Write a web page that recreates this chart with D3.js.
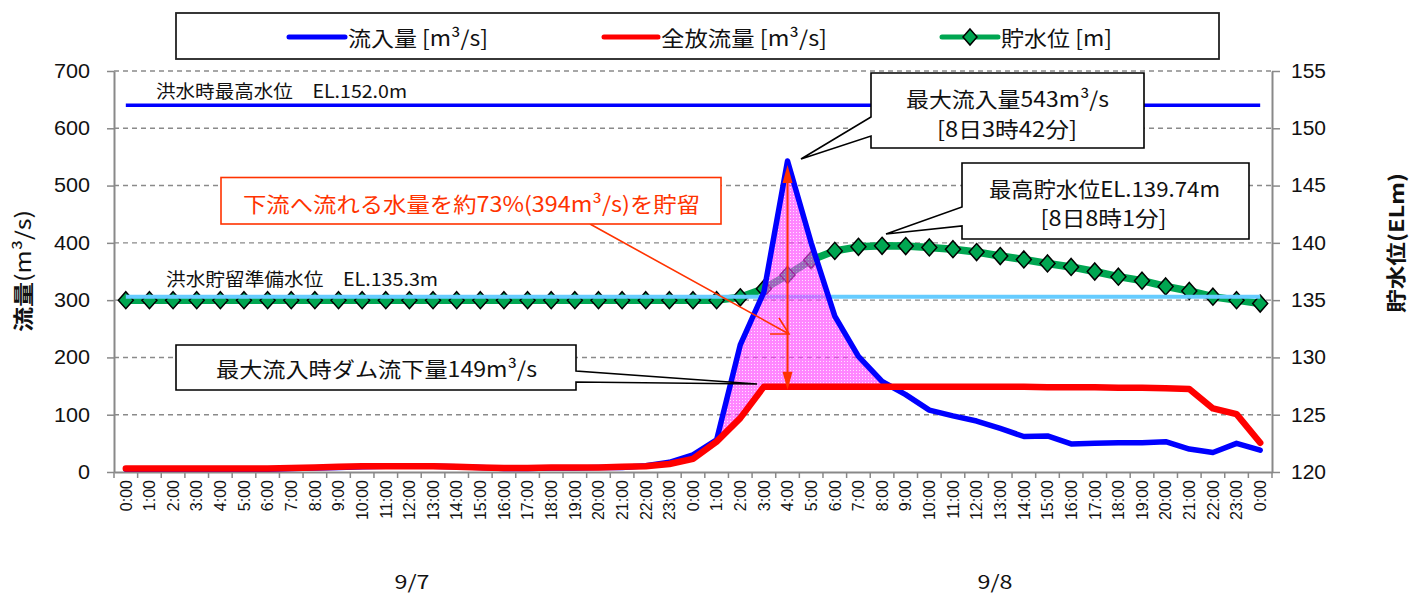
<!DOCTYPE html>
<html><head><meta charset="utf-8">
<script src="https://cdn.jsdelivr.net/npm/d3@7"></script>
<style>
html,body{margin:0;padding:0;background:#fff;}
svg{display:block;}
</style></head><body>
<svg id="chart" width="1410" height="593"></svg>
<script>
// ---------- data ----------
const hourLabels = ["0:00","1:00","2:00","3:00","4:00","5:00","6:00","7:00","8:00","9:00","10:00","11:00",
  "12:00","13:00","14:00","15:00","16:00","17:00","18:00","19:00","20:00","21:00","22:00","23:00",
  "0:00","1:00","2:00","3:00","4:00","5:00","6:00","7:00","8:00","9:00","10:00","11:00",
  "12:00","13:00","14:00","15:00","16:00","17:00","18:00","19:00","20:00","21:00","22:00","23:00","0:00"];
const dateLabels = ["9/7","9/8"];
const seriesNames = ["流入量 [m³/s]","全放流量 [m³/s]","貯水位 [m]"];
// inflow (m3/s)
const inflow = [5,5,5,5,5,5,5,6,7,8,9,10,10,10,9,8,6,6,7,7,8,8,11,17,
  30,56,222,314,543,400,272,202,158,135,108,98,89,76,62,63,49,50,51,51,53,40,34,50,38];
// total outflow (m3/s)
const outflow = [6,6,6,6,6,6,6,7,8,9,10,10,10,10,9,8,7,7,8,8,8,9,10,14,
  23,53,94,149,149,149,149,149,149,149,149,149,149,149,149,148,148,148,147,147,146,145,111,101,51];
// reservoir level (EL.m)
const storageLevel = [135.0,135.0,135.0,135.0,135.0,135.0,135.0,135.0,135.0,135.0,135.0,135.0,
  135.0,135.0,135.0,135.0,135.0,135.0,135.0,135.0,135.0,135.0,135.0,135.0,
  135.0,135.0,135.25,136.0,137.2,138.5,139.3,139.65,139.74,139.72,139.6,139.45,139.2,138.85,
  138.55,138.2,137.9,137.5,137.05,136.7,136.2,135.8,135.3,135.0,134.7];
const floodMaxLevel = 152.0;      // 洪水時最高水位
const floodStandbyLevel = 135.3;  // 洪水貯留準備水位
const leftTicks = [0,100,200,300,400,500,600,700];
const rightTicks = [120,125,130,135,140,145,150,155];

// ---------- setup ----------
const svg = d3.select("#chart");
const JP = "'Noto Sans CJK JP','Noto Sans',sans-serif";
const AR = "'Liberation Sans',Arial,sans-serif";
const plot = {l:114, r:1272, t:71, b:472};
const n = hourLabels.length;
const x = d3.scaleBand().domain(d3.range(n)).range([plot.l, plot.r]);
const bw = x.bandwidth();
const xc = i => x(0) + bw * (i + 0.5);
const yL = d3.scaleLinear().domain([0,700]).range([plot.b, plot.t]);
const yR = d3.scaleLinear().domain([120,155]).range([plot.b, plot.t]);
const AXC = "#898989";

// gridlines
svg.append("g").selectAll("line").data(leftTicks.filter(t => t > 0)).join("line")
  .attr("x1", plot.l).attr("x2", plot.r)
  .attr("y1", d => yL(d)).attr("y2", d => yL(d))
  .attr("stroke", "#8a8a8a").attr("stroke-width", 1.4).attr("stroke-dasharray", "5,4");

// left axis
const axL = svg.append("g").attr("transform", `translate(${plot.l},0)`)
  .call(d3.axisLeft(yL).tickValues(leftTicks).tickSize(7).tickSizeOuter(0).tickPadding(17));
axL.select(".domain").attr("stroke", AXC).attr("stroke-width", 2);
axL.selectAll(".tick line").attr("stroke", AXC).attr("stroke-width", 1.5);
axL.selectAll(".tick text").attr("font-family", AR).attr("font-size", 20).attr("fill", "#111")
  .attr("textLength", d => String(d).length * 12).attr("lengthAdjust", "spacingAndGlyphs");

// right axis
const axR = svg.append("g").attr("transform", `translate(${plot.r},0)`)
  .call(d3.axisRight(yR).tickValues(rightTicks).tickSize(8).tickSizeOuter(0).tickPadding(11));
axR.select(".domain").attr("stroke", AXC).attr("stroke-width", 2);
axR.selectAll(".tick line").attr("stroke", AXC).attr("stroke-width", 1.5);
axR.selectAll(".tick text").attr("font-family", AR).attr("font-size", 20).attr("fill", "#111")
  .attr("textLength", 35).attr("lengthAdjust", "spacingAndGlyphs");

// x axis (labels at category centres, ticks at category boundaries)
const axX = svg.append("g").attr("transform", `translate(0,${plot.b})`)
  .call(d3.axisBottom(x).tickSize(0).tickSizeOuter(0).tickFormat(i => hourLabels[i]));
axX.select(".domain").attr("stroke", AXC).attr("stroke-width", 2);
axX.selectAll(".tick text").attr("font-family", AR).attr("font-size", 16).attr("fill", "#111")
  .attr("transform", "rotate(-90)").attr("text-anchor", "end")
  .attr("x", -8).attr("y", 0).attr("dy", "0.36em");
axX.selectAll("line.bnd").data(d3.range(n + 1)).join("line").attr("class", "bnd")
  .attr("x1", k => x(0) + k * bw).attr("x2", k => x(0) + k * bw)
  .attr("y1", 0).attr("y2", 6).attr("stroke", AXC).attr("stroke-width", 1.5);

// date labels
svg.append("g").selectAll("text").data(dateLabels).join("text")
  .attr("x", (d, i) => [412, 995][i]).attr("y", 580)
  .attr("text-anchor", "middle").attr("dominant-baseline", "central")
  .attr("font-family", JP).attr("font-size", 19).attr("fill", "#111")
  .attr("textLength", 35).attr("lengthAdjust", "spacingAndGlyphs").text(d => d);

// axis titles
const tL = svg.append("text").attr("transform", "translate(22,271) rotate(-90)")
  .attr("text-anchor", "middle").attr("dominant-baseline", "central")
  .attr("font-family", JP).attr("font-size", 21).attr("fill", "#111")
  .attr("textLength", 122).attr("lengthAdjust", "spacingAndGlyphs");
tL.append("tspan").attr("font-weight", "bold").text("流量");
tL.append("tspan").text("(m³/s)");
svg.append("text").attr("transform", "translate(1395,243) rotate(-90)")
  .attr("text-anchor", "middle").attr("dominant-baseline", "central")
  .attr("font-family", JP).attr("font-size", 20).attr("font-weight", "bold").attr("fill", "#111")
  .attr("textLength", 140).attr("lengthAdjust", "spacingAndGlyphs").text("貯水位(ELm)");

// ---------- series ----------
const lineL = d3.line().x((d, i) => xc(i)).y(d => yL(d));
const lineR = d3.line().x((d, i) => xc(i)).y(d => yR(d));

// reservoir level
svg.append("path").datum(storageLevel).attr("d", lineR).attr("fill", "none")
  .attr("stroke", "#00A651").attr("stroke-width", 7.5).attr("stroke-linejoin", "round");
const diamond = "M0,-8.5L7.5,0L0,8.5L-7.5,0Z";
svg.append("g").selectAll("path").data(storageLevel).join("path")
  .attr("transform", (d, i) => `translate(${xc(i)},${yR(d)})`).attr("d", diamond)
  .attr("fill", "#00A651").attr("stroke", "#000").attr("stroke-width", 1.5);

// reference levels
svg.append("path").datum(hourLabels.map(() => floodStandbyLevel)).attr("d", lineR)
  .attr("fill", "none").attr("stroke", "#66CCFF").attr("stroke-width", 4);
svg.append("path").datum(hourLabels.map(() => floodMaxLevel)).attr("d", lineR)
  .attr("fill", "none").attr("stroke", "#0000FF").attr("stroke-width", 3.5);

// stored volume (inflow above outflow)
const defs = svg.append("defs");
const pat = defs.append("pattern").attr("id", "dots").attr("width", 3).attr("height", 3)
  .attr("patternUnits", "userSpaceOnUse");
pat.append("rect").attr("width", 3).attr("height", 3).attr("fill", "#ff3cff");
pat.append("rect").attr("x", 1).attr("y", 1).attr("width", 1).attr("height", 1).attr("fill", "#ffd0ff");
const segs = []; let cur = null;
for (let i = 0; i < n; i++) {
  const d = inflow[i] - outflow[i];
  if (i > 0) {
    const dp = inflow[i - 1] - outflow[i - 1];
    if ((dp > 0) !== (d > 0)) {
      const t = dp / (dp - d);
      const yi = outflow[i - 1] + t * (outflow[i] - outflow[i - 1]);
      const p = {x: i - 1 + t, top: yi, bot: yi};
      if (cur) { cur.push(p); segs.push(cur); cur = null; } else { cur = [p]; }
    }
  }
  if (d > 0) { if (!cur) cur = []; cur.push({x: i, top: inflow[i], bot: outflow[i]}); }
}
if (cur) segs.push(cur);
const area = d3.area().x(d => xc(d.x)).y0(d => yL(d.bot)).y1(d => yL(d.top));
svg.append("g").selectAll("path").data(segs.filter(s => d3.max(s, p => p.top - p.bot) > 100)).join("path")
  .attr("d", area).attr("fill", "url(#dots)").attr("opacity", 0.62);

// inflow / outflow
svg.append("path").datum(inflow).attr("d", lineL).attr("fill", "none")
  .attr("stroke", "#0000FF").attr("stroke-width", 5.5).attr("stroke-linejoin", "round").attr("stroke-linecap", "round");
svg.append("path").datum(outflow).attr("d", lineL).attr("fill", "none")
  .attr("stroke", "#FF0000").attr("stroke-width", 6.5).attr("stroke-linejoin", "round").attr("stroke-linecap", "round");

// ---------- annotations ----------
const OR = "#FF3300";
const pk = d3.maxIndex(inflow);
const ax = xc(pk), yTop = yL(inflow[pk]) + 4, yBot = yL(outflow[pk]) + 3;
svg.append("line").attr("x1", ax).attr("x2", ax).attr("y1", yTop + 10).attr("y2", yBot - 10)
  .attr("stroke", OR).attr("stroke-width", 2);
svg.append("path").attr("d", `M${ax},${yTop}L${ax + 5},${yTop + 18}L${ax - 5},${yTop + 18}Z`).attr("fill", OR);
svg.append("path").attr("d", `M${ax},${yBot}L${ax + 5},${yBot - 18}L${ax - 5},${yBot - 18}Z`).attr("fill", OR);
const tip = [ax + 1.5, 334];
svg.append("path").attr("d", `M590,224L${tip[0]},${tip[1]}M${tip[0] - 19},${tip[1]}L${tip[0]},${tip[1]}L${tip[0] - 10},${tip[1] - 16}`)
  .attr("fill", "none").attr("stroke", OR).attr("stroke-width", 1.6);

// boxes & callouts
svg.append("rect").attr("x", 221).attr("y", 177.5).attr("width", 500).attr("height", 46.5)
  .attr("fill", "#fff").attr("stroke", OR).attr("stroke-width", 1.6);
const callouts = [
  "M871,73H1144V148H871V136L801,159L871,117Z",
  "M962,163H1249V239H962V226L886,234L962,207Z",
  "M176,345H576V371L757,384L576,382V390H176Z"
];
svg.append("g").selectAll("path").data(callouts).join("path").attr("d", d => d)
  .attr("fill", "#fff").attr("stroke", "#000").attr("stroke-width", 1.6);

function label(txt, cx, cy, size, len, color, anchor) {
  return svg.append("text").attr("x", cx).attr("y", cy)
    .attr("text-anchor", anchor || "middle").attr("dominant-baseline", "central")
    .attr("font-family", JP).attr("font-size", size).attr("fill", color || "#111")
    .attr("textLength", len).attr("lengthAdjust", "spacingAndGlyphs").text(txt);
}
label("下流へ流れる水量を約73%(394m³/s)を貯留", 471.5, 203, 21, 457, OR);
label("最大流入量543m³/s", 1007.5, 98, 21, 203);
label("[8日3時42分]", 1007, 128, 21, 140);
label("最高貯水位EL.139.74m", 1104.5, 188, 21, 231);
label("[8日8時1分]", 1103.6, 217, 21, 126);
label("最大流入時ダム流下量149m³/s", 376.5, 368, 21, 321);
label("洪水時最高水位　EL.152.0m", 156, 90, 18, 251, "#111", "start");
label("洪水貯留準備水位　EL.135.3m", 166, 278, 18, 272, "#111", "start");

// ---------- legend ----------
svg.append("rect").attr("x", 176).attr("y", 13).attr("width", 1043).attr("height", 46)
  .attr("fill", "#fff").attr("stroke", "#222").attr("stroke-width", 1.8);
const legendItems = [
  {name: seriesNames[0], color: "#0000FF", x1: 289, x2: 345, tx: 348, tw: 140},
  {name: seriesNames[1], color: "#FF0000", x1: 604, x2: 658, tx: 661, tw: 166},
  {name: seriesNames[2], color: "#00A651", x1: 942, x2: 998, tx: 1001, tw: 111, marker: true}
];
const lg = svg.append("g").selectAll("g").data(legendItems).join("g");
lg.append("line").attr("x1", d => d.x1).attr("x2", d => d.x2).attr("y1", 37).attr("y2", 37)
  .attr("stroke", d => d.color).attr("stroke-width", 5).attr("stroke-linecap", "round");
lg.filter(d => d.marker).append("path").attr("d", "M0,-8L7,0L0,8L-7,0Z")
  .attr("transform", d => `translate(${(d.x1 + d.x2) / 2},37)`)
  .attr("fill", "#00A651").attr("stroke", "#000").attr("stroke-width", 1.5);
lg.append("text").attr("x", d => d.tx).attr("y", 37).attr("dominant-baseline", "central")
  .attr("font-family", JP).attr("font-size", 21).attr("fill", "#111")
  .attr("textLength", d => d.tw).attr("lengthAdjust", "spacingAndGlyphs").text(d => d.name);
</script>
</body></html>
